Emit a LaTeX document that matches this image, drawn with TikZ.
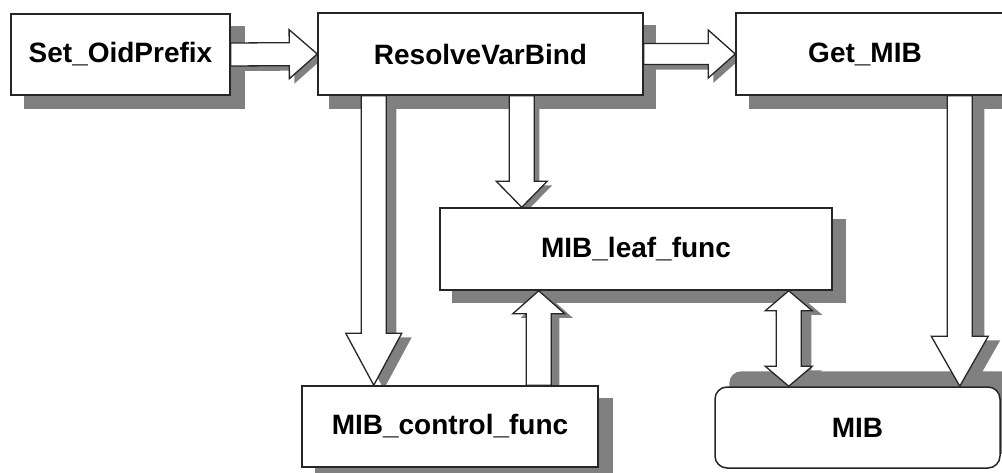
\documentclass[tikz,border=0pt]{standalone}
\usepackage{fontspec}
\setmainfont{Liberation Sans}
\usetikzlibrary{calc,backgrounds}
\definecolor{shadowgray}{HTML}{808080}
\definecolor{edgecol}{HTML}{262626}
\tikzset{
  box/.style={draw=edgecol, line width=1.5pt, fill=white, minimum height=82pt,
    inner sep=0pt, font=\fontsize{28}{32}\selectfont\bfseries},
  arrowbody/.style={draw=edgecol, line width=1.3pt, fill=white, line join=miter},
  shade/.style={fill=shadowgray, draw=none},
}
% single block arrow: start, end, shaft half width, head half width, head length, options
\newcommand\blockarrow[6]{%
  \coordinate (ba-b) at ($(#2)!#5!(#1)$);
  \path[#6] ($(#1)!#3!90:(#2)$) -- ($(ba-b)!#3!90:(#2)$) -- ($(ba-b)!#4!90:(#2)$)
    -- (#2) -- ($(ba-b)!#4!-90:(#2)$) -- ($(ba-b)!#3!-90:(#2)$) -- ($(#1)!#3!-90:(#2)$) -- cycle;
}
% double block arrow
\newcommand\doublearrow[6]{%
  \coordinate (da-a) at ($(#1)!#5!(#2)$);
  \coordinate (da-b) at ($(#2)!#5!(#1)$);
  \path[#6] (#1) -- ($(da-a)!#4!90:(#2)$) -- ($(da-a)!#3!90:(#2)$) -- ($(da-b)!#3!90:(#2)$)
    -- ($(da-b)!#4!90:(#2)$) -- (#2) -- ($(da-b)!#4!-90:(#2)$) -- ($(da-b)!#3!-90:(#2)$)
    -- ($(da-a)!#3!-90:(#2)$) -- ($(da-a)!#4!-90:(#2)$) -- cycle;
}
\begin{document}
\begin{tikzpicture}[x=1pt,y=-1pt]
\useasboundingbox (0,0) rectangle (1002,472);
\clip (0,0) rectangle (1002,472);

% boxes
\node[box, minimum width=219pt, minimum height=81pt] (set) at (120.5,54.5) {Set\_OidPrefix};
\node[box, minimum width=325pt] (rvb) at (480.5,54) {ResolveVarBind};
\node[box, minimum width=280pt] (get) at (876,54) {Get\_MIB\hspace*{22pt}};
\node[box, minimum width=392pt] (leaf) at (636,249) {MIB\_leaf\_func};
\node[box, minimum width=296pt, minimum height=81pt] (ctrl) at (450,426.5) {MIB\_control\_func};
\node[box, minimum width=285pt, minimum height=81pt, rounded corners=12pt] (mib) at (857.5,427.5) {MIB};

% arrow anchor points
\coordinate (a3s) at ($(rvb.south west)+(56.5,0)$);
\coordinate (a3e) at (a3s |- ctrl.north);
\coordinate (a4s) at ($(rvb.south west)+(204.5,0)$);
\coordinate (a4e) at (a4s |- leaf.north);
\coordinate (a5s) at ($(ctrl.north west)+(237.5,0)$);
\coordinate (a5e) at (a5s |- leaf.south);
\coordinate (a6s) at ($(leaf.south west)+(349.5,0)$);
\coordinate (a6e) at (a6s |- mib.north);
\coordinate (a7s) at ($(get.south west)+(224.5,0)$);
\coordinate (a7e) at (a7s |- mib.north);

% shadows
\begin{pgfonlayer}{background}
  \fill[white] (0,0) rectangle (1002,472);
  \fill[shade, transform canvas={xshift=14pt,yshift=-13pt}] (set.south west) rectangle (set.north east);
  \fill[shade, transform canvas={xshift=12pt,yshift=-13pt}] (rvb.south west) rectangle (rvb.north east);
  \fill[shade, transform canvas={xshift=14pt,yshift=-13pt}] (get.south west) rectangle (get.north east);
  \fill[shade, transform canvas={xshift=13pt,yshift=-12pt}] (leaf.south west) rectangle (leaf.north east);
  \fill[shade, transform canvas={xshift=14pt,yshift=-13pt}] (ctrl.south west) rectangle (ctrl.north east);
  \fill[shade, rounded corners=12pt, transform canvas={xshift=15pt,yshift=15pt}] (mib.south west) rectangle (mib.north east);
  \blockarrow{set.east}{rvb.west}{11.5pt}{24.5pt}{28pt}{shade, transform canvas={xshift=5pt,yshift=-5pt}}
  \blockarrow{rvb.east}{get.west}{10.5pt}{24pt}{27pt}{shade, transform canvas={xshift=5pt,yshift=-5pt}}
  \blockarrow{a3s}{a3e}{12.5pt}{28pt}{52pt}{shade, transform canvas={xshift=10pt,yshift=-4pt}}
  \blockarrow{a4s}{a4e}{12.5pt}{25.5pt}{26pt}{shade, transform canvas={xshift=5pt,yshift=-4pt}}
  \blockarrow{a5s}{a5e}{12.5pt}{26pt}{23pt}{shade, transform canvas={xshift=8pt,yshift=-4pt}}
  \doublearrow{a6s}{a6e}{12.5pt}{23.5pt}{20pt}{shade, transform canvas={xshift=10pt,yshift=-4pt}}
  \blockarrow{a7s}{a7e}{12.5pt}{28.5pt}{50pt}{shade, transform canvas={xshift=12pt,yshift=-4pt}}
\end{pgfonlayer}

% arrows
\blockarrow{set.east}{rvb.west}{11.5pt}{24.5pt}{28pt}{arrowbody}
\blockarrow{rvb.east}{get.west}{10.5pt}{24pt}{27pt}{arrowbody}
\blockarrow{a3s}{a3e}{12.5pt}{28pt}{52pt}{arrowbody}
\blockarrow{a4s}{a4e}{12.5pt}{25.5pt}{26pt}{arrowbody}
\blockarrow{a5s}{a5e}{12.5pt}{26pt}{23pt}{arrowbody}
\doublearrow{a6s}{a6e}{12.5pt}{23.5pt}{20pt}{arrowbody}
\blockarrow{a7s}{a7e}{12.5pt}{28.5pt}{50pt}{arrowbody}
\end{tikzpicture}
\end{document}
